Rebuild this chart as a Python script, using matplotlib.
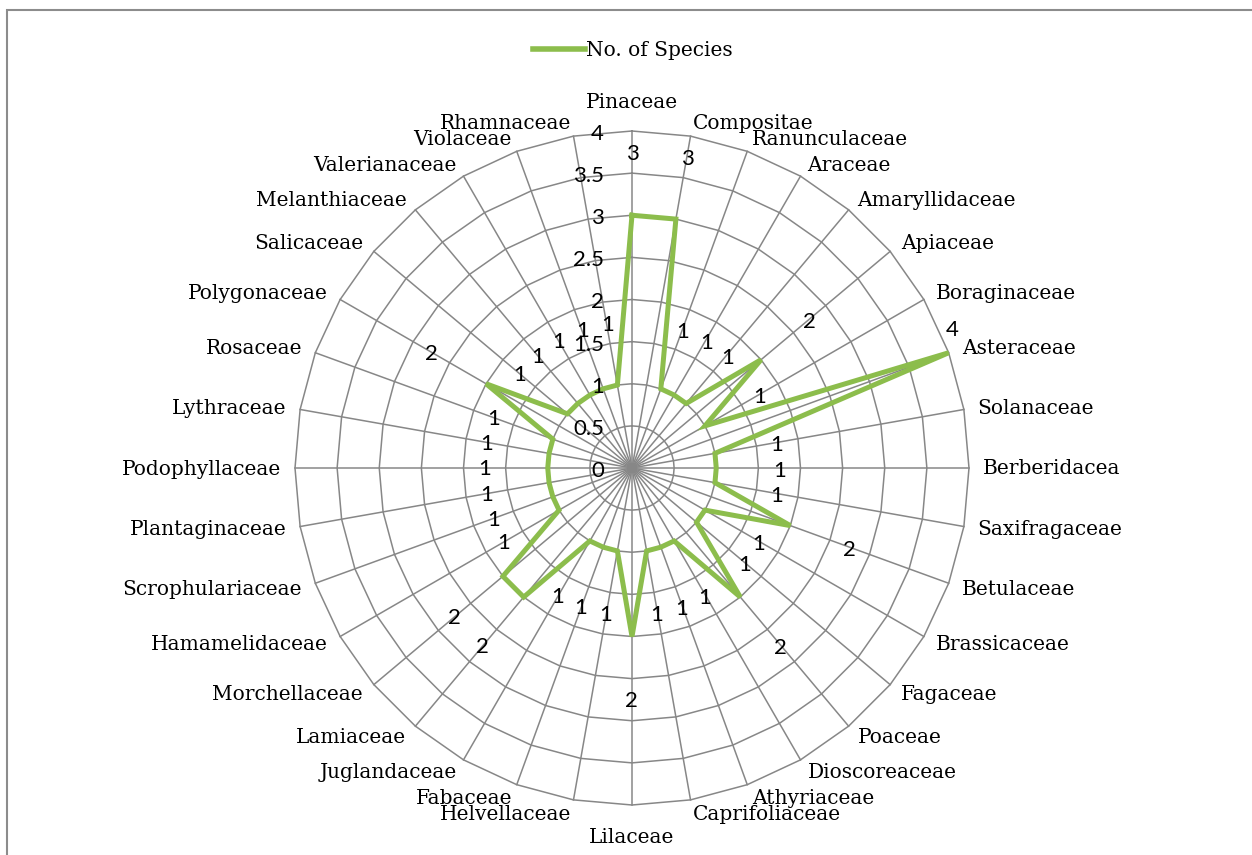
import numpy as np
import matplotlib
matplotlib.use("Agg")
import matplotlib.pyplot as plt
from matplotlib.lines import Line2D
from matplotlib.patches import Rectangle

families = ["Pinaceae", "Compositae", "Ranunculaceae", "Araceae", "Amaryllidaceae",
            "Apiaceae", "Boraginaceae", "Asteraceae", "Solanaceae", "Berberidacea",
            "Saxifragaceae", "Betulaceae", "Brassicaceae", "Fagaceae", "Poaceae",
            "Dioscoreaceae", "Athyriaceae", "Caprifoliaceae", "Lilaceae", "Helvellaceae",
            "Fabaceae", "Juglandaceae", "Lamiaceae", "Morchellaceae", "Hamamelidaceae",
            "Scrophulariaceae", "Plantaginaceae", "Podophyllaceae", "Lythraceae", "Rosaceae",
            "Polygonaceae", "Salicaceae", "Melanthiaceae", "Valerianaceae", "Violaceae",
            "Rhamnaceae"]
species = [3, 3, 1, 1, 1, 2, 1, 4, 1, 1,
           1, 2, 1, 1, 2, 1, 1, 1, 2, 1,
           1, 1, 2, 2, 1, 1, 1, 1, 1, 1,
           2, 1, 1, 1, 1, 1]
rings = [0, 0.5, 1, 1.5, 2, 2.5, 3, 3.5, 4]
ring_labels = ["0", "0.5", "1", "1.5", "2", "2.5", "3", "3.5", "4"]

GREEN = "#8cbd4c"
GRID = "#878787"
SERIF = "DejaVu Serif"
SANS = "Lato"

W, H = 1252, 855
fig = plt.figure(figsize=(W / 100, H / 100), dpi=100)
fig.patch.set_facecolor("white")

# outer chart frame (runs off the right and bottom edges)
fig.patches.append(Rectangle((7 / W, -0.05), 1.1, (H - 10) / H + 0.05,
                             transform=fig.transFigure, fill=False,
                             edgecolor="#8c8c8c", linewidth=1.5))

cx, cy, R = 632, 855 - 468, 337
ax = fig.add_axes([(cx - R) / W, (cy - R) / H, 2 * R / W, 2 * R / H], polar=True)
ax.set_theta_zero_location("N")
ax.set_theta_direction(-1)
ax.set_ylim(0, 4)
ax.grid(False)
ax.set_xticks([])
ax.set_yticks([])
ax.spines["polar"].set_visible(False)
ax.patch.set_alpha(0)

n = len(families)
theta = np.arange(n) * 2 * np.pi / n
closed = np.append(theta, theta[0])

# polygonal rings and spokes
for r in rings[1:]:
    ax.plot(closed, [r] * (n + 1), color=GRID, lw=1.1, clip_on=False, zorder=1)
for t in theta:
    ax.plot([t, t], [0, 4], color=GRID, lw=1.1, clip_on=False, zorder=1)

# series
vals = np.array(species + species[:1], dtype=float)
ax.plot(closed, vals, color=GREEN, lw=3.6, solid_joinstyle="miter", zorder=3,
        clip_on=False)

# radial axis labels
for r, lab in zip(rings, ring_labels):
    ax.annotate(lab, xy=(0, r), xytext=(-28, -3), textcoords="offset pixels",
                ha="right", va="center", fontsize=16, family=SANS, color="black")

# data labels (pushed radially outward, top value kept inside)
vmax = max(species)
for t, v in zip(theta, species):
    if v == vmax:
        off = (4, 23)
    else:
        off = (63 * np.sin(t + 0.012), 63 * np.cos(t + 0.012) - 2)
    ax.annotate(str(v), xy=(t, v), xytext=off, textcoords="offset pixels",
                ha="center", va="center", fontsize=16, family=SANS, color="black")

# category labels: anchored just outside the outer ring, aligned away from it
pad = 14
for t, name in zip(theta, families):
    s, c = np.sin(t), np.cos(t)
    if abs(s) < 1e-6:
        ha = "center"
        va = "bottom" if c > 0 else "top"
        off = (0, 19 if c > 0 else -23)
    else:
        ha = "left" if s > 0 else "right"
        va = "center_baseline"
        off = (pad * s, pad * c + 1)
    ax.annotate(name, xy=(t, 4), xytext=off, textcoords="offset pixels",
                ha=ha, va=va, fontsize=14.5, family=SERIF, color="black",
                annotation_clip=False)

# legend
handle = Line2D([], [], color=GREEN, lw=4)
fig.legend([handle], ["No. of Species"], loc="center",
           bbox_to_anchor=(633 / W, 1 - 51 / H), frameon=False,
           prop={"family": SERIF, "size": 14.5}, handlelength=2.6, handletextpad=0.05)

fig.savefig("out.png", dpi=100)
